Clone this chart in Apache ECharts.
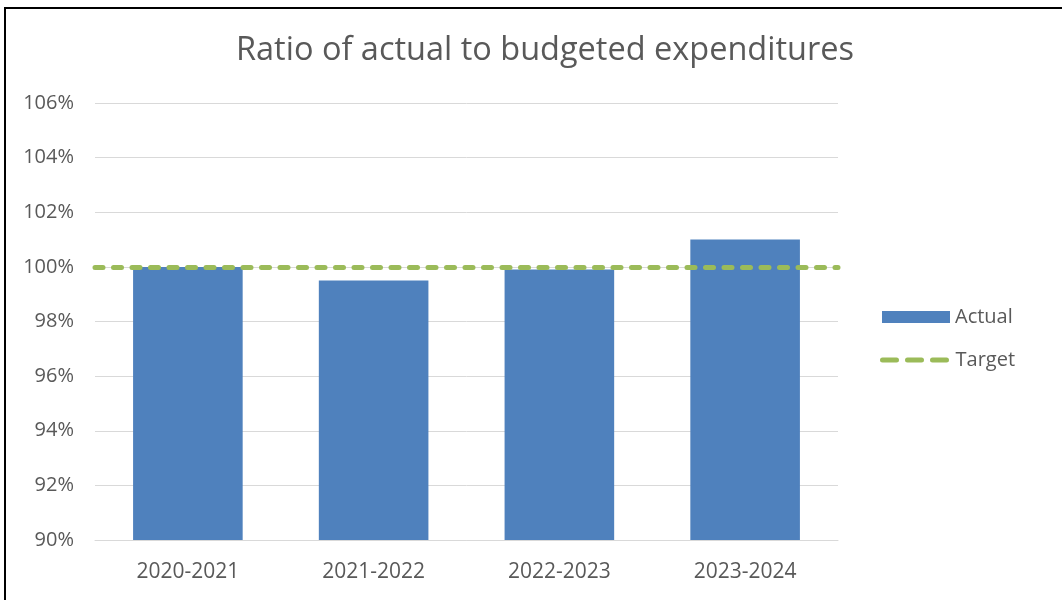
<!DOCTYPE html>
<html>
<head>
<meta charset="utf-8">
<script src="https://cdn.jsdelivr.net/npm/echarts@6/dist/echarts.min.js"></script>
<style>
  html, body { margin: 0; padding: 0; background: #fff; }
  #chart { position: absolute; left: 0; top: 0; width: 1062px; height: 600px; }
  #frame { position: absolute; left: 4px; top: 7px; width: 1070px; height: 610px;
           border-left: 2px solid #000; border-top: 2px solid #000; pointer-events: none; }
</style>
</head>
<body>
<div id="chart"></div>
<div id="frame"></div>
<script>
// Fiscal years and the ratio of actual to budgeted spending (%)
const categories = ['2020-2021', '2021-2022', '2022-2023', '2023-2024'];
const actualValues = [100.0, 99.5, 99.9, 101.0];
const targetValue = 100;
const yTicks = { min: 90, max: 106, interval: 2 };

const FONT = 'Open Sans';
const TEXT = '#595959';
const GRID = '#d9d9d9';
const BLUE = '#4f81bd';
const GREEN = '#9bbb59';

const chart = echarts.init(document.getElementById('chart'), null, { renderer: 'canvas' });

chart.setOption({
  animation: false,
  backgroundColor: '#fff',
  textStyle: { fontFamily: FONT },
  title: {
    text: 'Ratio of actual to budgeted expenditures',
    left: 231,
    top: 29,
    textStyle: { fontFamily: FONT, fontSize: 32.5, fontWeight: 'normal', color: TEXT }
  },
  legend: [
    {
      data: [{ name: 'Actual', icon: 'rect' }],
      orient: 'vertical',
      left: 877,
      top: 302,
      itemWidth: 68,
      itemHeight: 12,
      textStyle: { fontFamily: FONT, fontSize: 20, color: TEXT }
    },
    {
      data: ['Target'],
      orient: 'vertical',
      left: 875,
      top: 345,
      itemWidth: 68,
      itemHeight: 20,
      itemStyle: { opacity: 0 },
      lineStyle: { color: GREEN, width: 5, type: [14, 11], cap: 'round', opacity: 1 },
      textStyle: { fontFamily: FONT, fontSize: 20, color: TEXT }
    }
  ],
  grid: { left: 95, right: 224, top: 103, bottom: 60, containLabel: false },
  xAxis: {
    type: 'category',
    data: categories,
    axisLine: { lineStyle: { color: GRID, width: 1 } },
    axisTick: { show: false },
    axisLabel: { color: TEXT, fontSize: 21, fontFamily: FONT, margin: 22 }
  },
  yAxis: {
    type: 'value',
    min: yTicks.min,
    max: yTicks.max,
    interval: yTicks.interval,
    axisLine: { show: false },
    axisTick: { show: false },
    splitLine: { lineStyle: { color: GRID, width: 1 } },
    axisLabel: { color: TEXT, fontSize: 20, fontFamily: FONT, margin: 21, formatter: '{value}%' }
  },
  series: [
    {
      name: 'Actual',
      type: 'bar',
      data: actualValues,
      barWidth: '59%',
      itemStyle: { color: BLUE },
      z: 2
    },
    {
      name: 'Target',
      type: 'line',
      data: [],
      symbol: 'none',
      color: GREEN,
      lineStyle: { color: GREEN, width: 5, type: [8, 10.5], cap: 'round' },
      markLine: {
        silent: true,
        symbol: ['none', 'none'],
        label: { show: false },
        lineStyle: { color: GREEN, width: 5, type: [8, 10.5], cap: 'round' },
        data: [{ yAxis: targetValue }]
      },
      z: 3
    }
  ]
});
</script>
</body>
</html>
